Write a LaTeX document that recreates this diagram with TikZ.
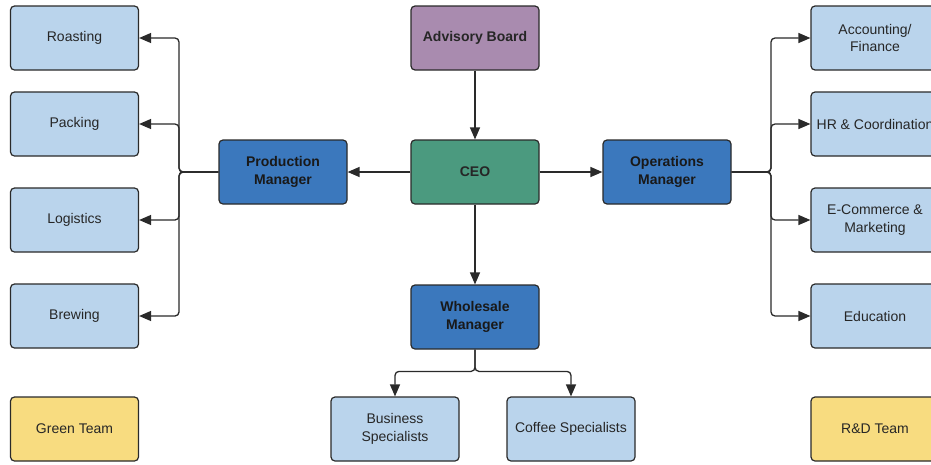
\documentclass[tikz,border=0pt]{standalone}
\usepackage{fontspec}
\setmainfont{Liberation Sans}
\usetikzlibrary{arrows.meta,calc}
\definecolor{lightbox}{HTML}{BAD4EC}
\definecolor{darkbox}{HTML}{3B78BD}
\definecolor{ceobox}{HTML}{4B9A7F}
\definecolor{advbox}{HTML}{A98BAF}
\definecolor{teambox}{HTML}{F8DC80}
\definecolor{edge}{HTML}{2A2A2A}
\begin{document}
\begin{tikzpicture}[x=1pt,y=-1pt,
  box/.style={draw=edge, line width=1.2pt, rounded corners=4pt, minimum width=128pt, minimum height=64pt, inner sep=2pt, align=center, font=\fontsize{14}{17.5}\selectfont, text=black!85},
  light/.style={box, fill=lightbox},
  dark/.style={box, fill=darkbox, font=\fontsize{14}{17.5}\selectfont\bfseries, text=black!90},
  team/.style={box, fill=teambox},
  conn/.style={draw=edge, line width=1.3pt, -{Triangle[length=12pt,width=10pt]}, rounded corners=4pt}]
\useasboundingbox (0,0) rectangle (931,464);
\clip (0,0) rectangle (931,464);
\fill[white] (0,0) rectangle (931,464);
% top / center
\node[box, fill=advbox, font=\fontsize{14}{17.5}\selectfont\bfseries] (adv) at (475,38) {Advisory Board};
\node[box, fill=ceobox, font=\fontsize{14}{17.5}\selectfont\bfseries] (ceo) at (475,172) {CEO};
\node[dark] (pm) at (283,172) {Production\\Manager};
\node[dark] (om) at (667,172) {Operations\\Manager};
\node[dark] (wm) at (475,317) {Wholesale\\Manager};
% left column
\node[light] (roast) at (74.5,38) {Roasting};
\node[light] (pack) at (74.5,124) {Packing};
\node[light] (logi) at (74.5,220) {Logistics};
\node[light] (brew) at (74.5,316) {Brewing};
\node[team] (green) at (74.5,429) {Green Team};
% right column
\node[light] (acc) at (875,38) {Accounting/\\Finance};
\node[light] (hr) at (875,124) {HR \& Coordination};
\node[light] (ecom) at (875,220) {E-Commerce \&\\Marketing};
\node[light] (edu) at (875,316) {Education};
\node[team] (rd) at (875,429) {R\&D Team};
% bottom
\node[light] (bus) at (395,429) {Business\\Specialists};
\node[light] (cof) at (571,429) {Coffee Specialists};
% connectors
\draw[conn] (adv) -- (ceo);
\draw[conn] (ceo) -- (pm);
\draw[conn] (ceo) -- (om);
\draw[conn] (ceo) -- (wm);
\foreach \t in {roast,pack,logi,brew}{
  \draw[conn] (pm.west) -- (179,172) |- (\t.east);
}
\foreach \t in {acc,hr,ecom,edu}{
  \draw[conn] (om.east) -- (771,172) |- (\t.west);
}
\foreach \t in {bus,cof}{
  \draw[conn] (wm.south) |- ($(\t.north)+(0,-25)$) -- (\t.north);
}
\end{tikzpicture}
\end{document}
